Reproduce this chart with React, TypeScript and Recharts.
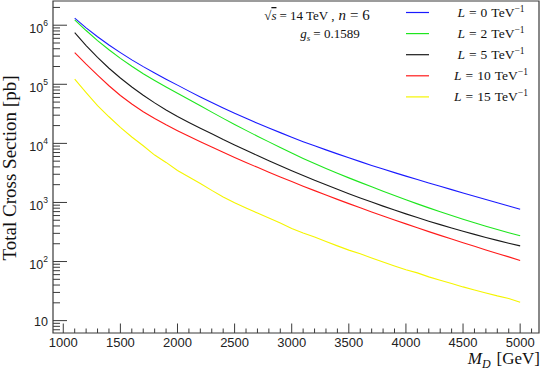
import { LineChart, Line, XAxis, YAxis, ReferenceArea } from 'recharts';

// M_D grid [GeV]
const MASS = [
  1100, 1200, 1300, 1400, 1500, 1600, 1700, 1800, 1900, 2000,
  2100, 2200, 2300, 2400, 2500, 2600, 2700, 2800, 2900, 3000,
  3100, 3200, 3300, 3400, 3500, 3600, 3700, 3800, 3900, 4000,
  4100, 4200, 4300, 4400, 4500, 4600, 4700, 4800, 4900, 5000,
];

// total cross section [pb]
const XS_L0 = [
  1.318e6, 9.02e5, 6.38e5, 4.63e5, 3.44e5, 2.59e5, 1.99e5, 1.55e5, 1.22e5, 9.68e4,
  7.66e4, 6.11e4, 4.91e4, 3.97e4, 3.24e4, 2.65e4, 2.19e4, 1.82e4, 1.52e4, 1.27e4,
  1.07e4, 9100, 7762, 6637, 5689, 4909, 4236, 3681, 3199, 2793,
  2438, 2138, 1875, 1648, 1449, 1276, 1125, 991, 873, 769,
];
const XS_L2 = [
  1.23e6, 8.13e5, 5.5e5, 3.85e5, 2.75e5, 2.02e5, 1.51e5, 1.16e5, 9.02e4, 7.08e4,
  5.52e4, 4.32e4, 3.38e4, 2.65e4, 2.09e4, 1.66e4, 1.32e4, 1.06e4, 8490, 6855,
  5572, 4560, 3758, 3119, 2606, 2188, 1841, 1552, 1312, 1112,
  946, 809, 695, 600, 520, 453, 396, 348, 308, 273,
];
const XS_L5 = [
  7.5e5, 4.52e5, 2.85e5, 1.87e5, 1.28e5, 9.02e4, 6.53e4, 4.85e4, 3.68e4, 2.85e4,
  2.26e4, 1.81e4, 1.45e4, 1.16e4, 9397, 7621, 6209, 5082, 4178, 3451,
  2864, 2382, 1991, 1671, 1409, 1194, 1016, 867, 745, 641,
  555, 482, 421, 369, 325, 288, 256, 228, 204, 184,
];
const XS_L10 = [
  3.44e5, 2.19e5, 1.43e5, 9.46e4, 6.47e4, 4.63e4, 3.44e4, 2.64e4, 2.06e4, 1.64e4,
  1.32e4, 1.07e4, 8690, 7079, 5794, 4764, 3926, 3251, 2704, 2254,
  1888, 1585, 1334, 1127, 955, 811, 690, 590, 505, 434,
  373, 321, 277, 240, 208, 181, 157, 137, 120, 104,
];
const XS_L15 = [
  1.22e5, 7.21e4, 4.35e4, 2.82e4, 1.87e4, 1.28e4, 9100, 6340, 4760, 3480,
  2690, 2100, 1600, 1240, 989, 804, 661, 548, 451, 362,
  305, 261, 218, 184, 156, 135, 115, 98.4, 84.1, 72.4,
  64.3, 55, 48.3, 42.4, 37.2, 33, 29.4, 26.2, 23.6, 20.5,
];

const SERIES = [
  { key: 'L0', label: '0', color: '#1a1aff', values: XS_L0 },
  { key: 'L2', label: '2', color: '#1ee61e', values: XS_L2 },
  { key: 'L5', label: '5', color: '#1a1a1a', values: XS_L5 },
  { key: 'L10', label: '10', color: '#ff1a1a', values: XS_L10 },
  { key: 'L15', label: '15', color: '#f5f500', values: XS_L15 },
];

const X_MAJOR = [1000, 1500, 2000, 2500, 3000, 3500, 4000, 4500, 5000];
const X_TICKS = Array.from({ length: 42 }, (_, i) => 1000 + i * 100);
const Y_DECADES = [10, 100, 1e3, 1e4, 1e5, 1e6];
const Y_TICKS = [7, 8, 9];
for (const d of Y_DECADES) for (let k = 1; k <= 9; k++) if (d * k < 2.6e6) Y_TICKS.push(d * k);

const X_DOMAIN = [910, 5165];
const Y_DOMAIN = [6.17, 2.57e6];

const W = 545;
const H = 370;
const FRAME_L = 53;
const FRAME_B = 333;
const AXIS_COLOR = '#3a3a3a';
const SANS = '"Liberation Sans", Arial, sans-serif';
const SERIF = '"Liberation Serif", "Times New Roman", serif';

const data = MASS.map((m, i) => {
  const row: Record<string, number> = { m };
  SERIES.forEach((s) => (row[s.key] = s.values[i]));
  return row;
});

const renderXTick = (props: any) => {
  const { x, payload } = props;
  const v = payload.value as number;
  const major = X_MAJOR.includes(v);
  return (
    <g key={`xt-${v}`}>
      <line x1={x} x2={x} y1={FRAME_B} y2={FRAME_B - (major ? 9.5 : 4.5)} stroke={AXIS_COLOR} />
      {major && (
        <text x={x} y={347} textAnchor="middle" fontFamily={SANS} fontSize={13} fill="#222">
          {v}
        </text>
      )}
    </g>
  );
};

const renderYTick = (props: any) => {
  const { y, payload } = props;
  const v = payload.value as number;
  const lg = Math.log10(v);
  const exp = Math.round(lg);
  const major = Math.abs(lg - exp) < 1e-6;
  return (
    <g key={`yt-${v}`}>
      <line x1={FRAME_L} x2={FRAME_L + (major ? 14 : 7)} y1={y} y2={y} stroke={AXIS_COLOR} />
      {major &&
        (exp === 1 ? (
          <text x={48} y={y + 5} textAnchor="end" fontFamily={SANS} fontSize={12.5} fill="#222">
            10
          </text>
        ) : (
          <text x={48} y={y + 7.5} textAnchor="end" fontFamily={SANS} fontSize={12.5} fill="#222">
            <tspan>10</tspan>
            <tspan dy={-7} fontSize={8.5}>
              {exp}
            </tspan>
          </text>
        ))}
    </g>
  );
};

function Overlay() {
  return (
    <svg width={W} height={H} style={{ position: 'absolute', left: 0, top: 0, pointerEvents: 'none' }}>
      <text
        transform={`translate(16, 168) rotate(-90)`}
        textAnchor="middle"
        fontFamily={SERIF}
        fontSize={19}
        fill="#111"
      >
        Total Cross Section [pb]
      </text>
      <text x={540} y={363.5} textAnchor="end" fontFamily={SERIF} fontSize={17} fill="#111">
        <tspan fontStyle="italic">M</tspan>
        <tspan fontStyle="italic" fontSize={12} dy={4}>D</tspan>
        <tspan dy={-4} dx={6}>[GeV]</tspan>
      </text>

      <text x={317} y={20} textAnchor="middle" fontFamily={SERIF} fontSize={13} fill="#111">
        <tspan>√</tspan>
        <tspan fontStyle="italic" style={{ textDecoration: 'overline' }}>s</tspan>
        <tspan dx={3}>= 14 TeV ,</tspan>
        <tspan dx={4} fontStyle="italic" fontSize={15}>n</tspan>
        <tspan dx={4} fontSize={15}>= 6</tspan>
      </text>
      <text x={330} y={38} textAnchor="middle" fontFamily={SERIF} fontSize={13} fill="#111">
        <tspan fontStyle="italic">g</tspan>
        <tspan fontStyle="italic" fontSize={9} dy={3}>s</tspan>
        <tspan dy={-3} dx={3}>= 0.1589</tspan>
      </text>

      {SERIES.map((s, i) => {
        const y = 12.5 + i * 21.1;
        return (
          <g key={s.key}>
            <line x1={406} x2={429} y1={y} y2={y} stroke={s.color} strokeWidth={1.2} />
            <text x={491} y={y + 4.5} textAnchor="middle" fontFamily={SERIF} fontSize={13.5} fill="#111">
              <tspan fontStyle="italic">L</tspan>
              <tspan dx={4}>=</tspan>
              <tspan dx={4}>{s.label}</tspan>
              <tspan dx={4}>TeV</tspan>
              <tspan dy={-5} fontSize={9.5}>−1</tspan>
            </text>
          </g>
        );
      })}
    </svg>
  );
}

export default function App() {
  return (
    <div style={{ position: 'absolute', left: 0, top: 0, width: W, height: H, background: '#fff' }}>
      <LineChart width={W} height={H} data={data} margin={{ top: 1, right: 6, bottom: 0, left: 0 }}>
        <XAxis
          dataKey="m"
          type="number"
          domain={X_DOMAIN}
          allowDataOverflow
          ticks={X_TICKS}
          interval={0}
          height={37}
          axisLine={false}
          tickLine={false}
          tick={renderXTick}
        />
        <YAxis
          type="number"
          scale="log"
          domain={Y_DOMAIN}
          allowDataOverflow
          ticks={Y_TICKS}
          interval={0}
          width={53}
          axisLine={false}
          tickLine={false}
          tick={renderYTick}
        />
        <ReferenceArea
          x1={X_DOMAIN[0]}
          x2={X_DOMAIN[1]}
          y1={Y_DOMAIN[0]}
          y2={Y_DOMAIN[1]}
          fill="none"
          stroke={AXIS_COLOR}
          strokeWidth={1.2}
        />
        {SERIES.map((s) => (
          <Line
            key={s.key}
            dataKey={s.key}
            stroke={s.color}
            strokeWidth={1.1}
            dot={false}
            type="linear"
            isAnimationActive={false}
          />
        ))}
      </LineChart>
      <Overlay />
    </div>
  );
}
